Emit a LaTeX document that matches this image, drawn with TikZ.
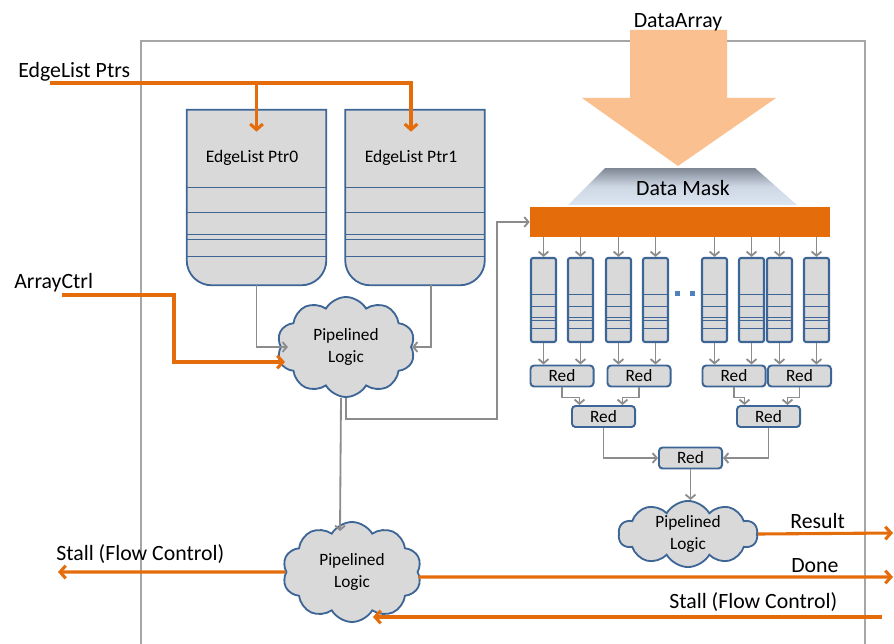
\documentclass[tikz,border=0pt]{standalone}
\usepackage{fontspec}
\setmainfont{Carlito}
\usepackage{xcolor}
\usepackage{tikz}
\usetikzlibrary{shapes,shapes.geometric,shapes.symbols}
\usetikzlibrary{calc,arrows.meta,positioning}
\definecolor{dorange}{HTML}{E46C0A}
\definecolor{lorange}{HTML}{FAC090}
\definecolor{lgray}{HTML}{D9D9D9}
\definecolor{bblue}{HTML}{3D6697}
\definecolor{cgray}{HTML}{8C8C8C}
\definecolor{fgray}{HTML}{A6A6A6}
\definecolor{masktop}{HTML}{7F8794}
\definecolor{maskbot}{HTML}{DCE6F2}
\definecolor{dotblue}{HTML}{4F81BD}
\tikzset{
  lbl/.style = {inner sep=0pt, font=\fontsize{15.5}{18}\selectfont},
  ptr/.style = {inner sep=0pt, font=\fontsize{12.5}{15}\selectfont},
  fifoarea/.style = {inner sep=0pt, minimum width=3.475cm, minimum height=4.375cm},
  bigfifo/.style = {draw=bblue, fill=lgray, line width=1.3pt},
  bline/.style = {draw=bblue, line width=0.8pt},
  sfifo/.style = {draw=bblue, fill=lgray, line width=1.5pt, rounded corners=1.5pt, inner sep=0pt, minimum width=0.625cm, minimum height=2.1cm},
  sline/.style = {draw=bblue, line width=0.8pt},
  redbox/.style = {draw=bblue, fill=lgray, line width=1.4pt, rounded corners=2.5pt, inner sep=0pt, minimum width=1.575cm, minimum height=0.525cm, font=\fontsize{12.3}{14}\selectfont},
  logic/.style = {cloud, cloud puffs=10, cloud puff arc=120, cloud ignores aspect, draw=bblue, fill=lgray, line width=1.3pt, align=center, inner sep=0pt, font=\fontsize{12.3}{15.6}\selectfont},
  bar/.style = {fill=dorange, inner sep=0pt, minimum width=7.5cm, minimum height=0.75cm},
  dot/.style = {fill=dotblue, inner sep=0pt, minimum size=0.125cm},
  frame/.style = {draw=fgray, line width=1.4pt},
  garrow/.style = {draw=cgray, line width=1.3pt, -{Straight Barb[length=3pt,width=7pt]}},
  oarrow/.style = {draw=dorange, line width=2.2pt, -{Straight Barb[length=4pt,width=9pt]}}
}
\begin{document}
\begin{tikzpicture}[x=0.025cm,y=-0.025cm]
\useasboundingbox (0,0) rectangle (894,644);
\draw[frame] (141,644) |- (865,41) -- (865,644);

% edge list fifos
\node[fifoarea] (f0) at (256.5,197.5) {};
\node[fifoarea] (f1) at (415,197.5) {};
\foreach \f in {f0,f1}{
  \filldraw[bigfifo] (\f.north west) -- ($(\f.south west)+(0,-25)$)
    arc[start angle=180,end angle=270,radius=0.625cm] -- ($(\f.south east)+(-25,0)$)
    arc[start angle=270,end angle=360,radius=0.625cm] -- (\f.north east) -- cycle;
  \foreach \dy in {78,103,125,130,147}
    \draw[bline] ($(\f.north west)+(0,\dy)$) -- ++(139,0);
}
\node[ptr, anchor=base] (p0) at (252,162) {EdgeList Ptr0};
\node[ptr, anchor=base] (p1) at (411,162) {EdgeList Ptr1};

% data array and mask
\fill[lorange] (630,30) -- (727,30) -- (727,98) -- (776,98) -- (678,166) -- (582,98) -- (630,98) -- cycle;
\node[lbl, anchor=base] (tarr) at (678,28) {DataArray};
\shade[top color=masktop, bottom color=maskbot, middle color=maskbot!85!masktop] (605,168) -- (755,168) -- (797,205) -- (568,205) -- cycle;
\node[lbl, anchor=base] (tmask) at (683,195) {Data Mask};
\node[bar] (bar) at (680,222) {};

% lane fifos
\foreach \xx [count=\i] in {543.5,580.5,618.5,655.5,714.5,751.5,779.5,816.5}{
  \node[sfifo] (s\i) at (\xx,300) {};
  \foreach \dy in {38,50,61,64,72}
    \draw[sline] ($(s\i.north west)+(0,\dy)$) -- ++(25,0);
  \draw[garrow] (s\i.north |- bar.south) -- (s\i.north);
}
\node[dot] (d1) at (677,293) {};
\node[dot] (d2) at (692,293) {};

% reduction tree
\node[redbox] (r1) at (562,376) {Red};
\node[redbox] (r2) at (639,376) {Red};
\node[redbox] (r3) at (734,376) {Red};
\node[redbox] (r4) at (799.5,376) {Red};
\node[redbox] (r5) at (603.5,416.5) {Red};
\node[redbox] (r6) at (768.5,416.5) {Red};
\node[redbox] (r7) at (690.5,458) {Red};
\foreach \i/\j in {1/1,2/1,3/2,4/2,5/3,6/3,7/4,8/4}
  \draw[garrow] (s\i.south) -- (s\i.south |- r\j.north);
\draw[garrow] (r1.south) -- ++(0,10) -| ($(r5.north)+(-24,0)$);
\draw[garrow] (r2.south) -- ++(0,10) -| ($(r5.north)+(19,0)$);
\draw[garrow] (r3.south) -- ++(0,10) -| ($(r6.north)+(-24,0)$);
\draw[garrow] (r4.south) -- ++(0,10) -| ($(r6.north)+(19,0)$);
\draw[garrow] (r5.south) |- (r7.west);
\draw[garrow] (r6.south) |- (r7.east);

% pipelined logic
\node[logic, minimum width=3.45cm, minimum height=2.5cm] (c1) at (346,347) {Pipelined\\Logic};
\node[logic, minimum width=3.475cm, minimum height=2.5cm] (c2) at (352,572) {Pipelined\\Logic};
\node[logic, minimum width=3.475cm, minimum height=1.55cm] (c3) at (688,534) {Pipelined\\Logic};
\draw[garrow] (f0.south) |- ($(c1.west)+(8,0)$);
\draw[garrow] ($(f1.south)+(16,0)$) |- (c1.east);
\draw[garrow] (c1.south) -- ++(0,21) -| ($(bar.west)+(-33,0)$) -- (bar.west);
\draw[garrow] ($(c1.south)+(-5,0)$) -- ($(c2.north)+(-12,10)$);
\draw[garrow] (r7.south) -- (r7.south |- c3.north);

% outside signals
\node[lbl, anchor=base west] (teptr) at (18,77) {EdgeList Ptrs};
\node[lbl, anchor=base west] (tactrl) at (14,288) {ArrayCtrl};
\node[lbl, anchor=base west] (tstalll) at (56,560) {Stall (Flow Control)};
\node[lbl, anchor=base west] (tres) at (790,528) {Result};
\node[lbl, anchor=base west] (tdone) at (791,572) {Done};
\node[lbl, anchor=base west] (tstallr) at (669,608) {Stall (Flow Control)};
\coordinate (eptr) at (50,83);
\coordinate (actrl) at (62,295);
\coordinate (stalll) at (58,572);
\coordinate (resout) at (893,533);
\coordinate (doneout) at (893,577);
\coordinate (stallr) at (882,617);
\draw[oarrow] (eptr) -| ($(f1.north)+(-4,22)$);
\draw[oarrow] (eptr -| f0.north) -- ($(f0.north)+(0,22)$);
\draw[oarrow] (actrl) -- ++(112,0) |- ($(c1.west)+(5,15)$);
\draw[oarrow] (c2.west) -- (stalll);
\draw[oarrow] ($(c2.east)+(0,5)$) -- (doneout);
\draw[oarrow] (stallr) -- ($(c2.center)+(21,45)$);
\draw[oarrow] (c3.east) -- (resout);
\end{tikzpicture}
\end{document}
